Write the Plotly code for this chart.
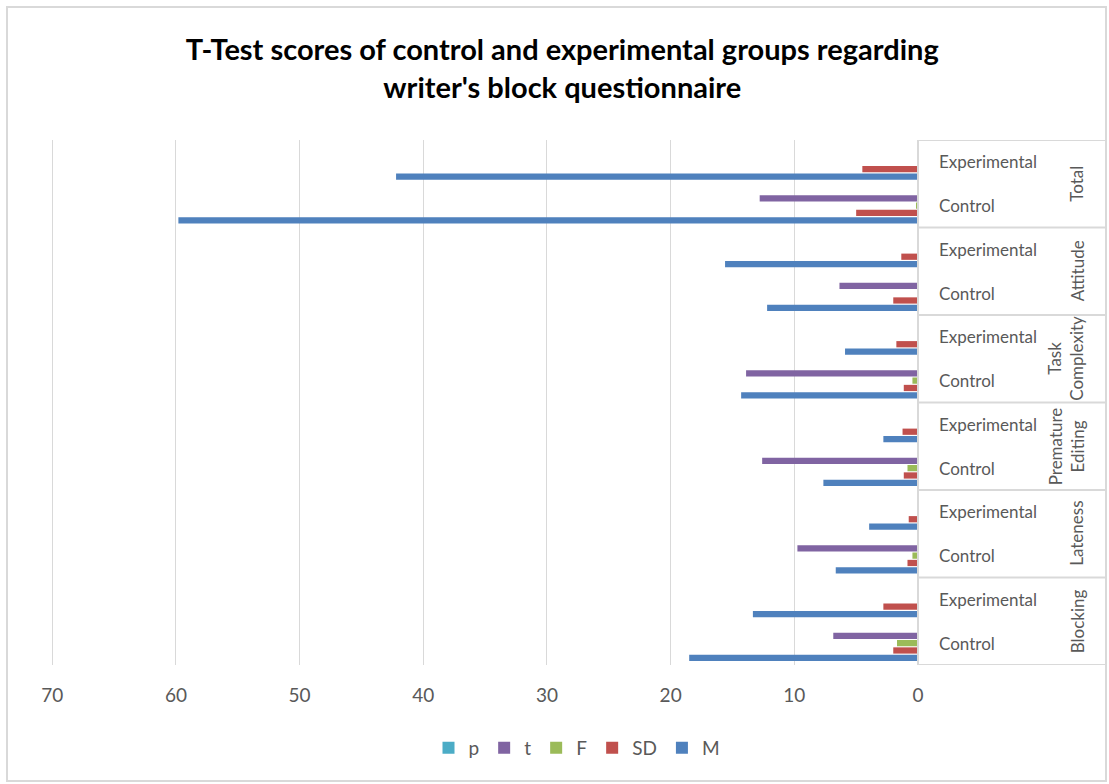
import plotly.graph_objects as go

groups = ["Blocking", "Lateness", "Premature<br>Editing", "Task<br>Complexity", "Attitude", "Total"]
subgroups = ["Control", "Experimental"]

# values ordered bottom-to-top: (Blocking Control, Blocking Experimental, Lateness Control, ...)
M_vals = [18.5, 13.35, 6.65, 3.95, 7.65, 2.8, 14.3, 5.9, 12.2, 15.6, 59.8, 42.2]
SD_vals = [2.0, 2.8, 0.85, 0.75, 1.15, 1.25, 1.15, 1.75, 2.0, 1.35, 5.0, 4.5]
F_vals = [1.7, 0, 0.45, 0, 0.85, 0, 0.45, 0, 0, 0, 0.15, 0]
t_vals = [6.85, 0, 9.75, 0, 12.6, 0, 13.9, 0, 6.35, 0, 12.8, 0]
p_vals = [0, 0, 0, 0, 0, 0, 0, 0, 0, 0, 0, 0]

series = [
    ("M", M_vals, "#4F81BD"),
    ("SD", SD_vals, "#C0504D"),
    ("F", F_vals, "#9BBB59"),
    ("t", t_vals, "#8064A2"),
    ("p", p_vals, "#4BACC6"),
]

n_cat = len(groups) * len(subgroups)
ypos = list(range(n_cat))

fig = go.Figure()
for name, vals, color in series:
    fig.add_trace(go.Bar(
        y=ypos, x=vals, name=name, orientation="h",
        marker=dict(color=color, line=dict(width=0)),
    ))

# plot area geometry (pixels) used to place label column
L, R, T, B = 51, 191, 140, 119
W, H = 1109, 784
pw = W - L - R
ph = H - T - B

def px_x(px):
    return (px - L) / pw

def px_y(py):
    return (H - B - py) / ph

annotations = []
shapes = []
grid_color = "#D9D9D9"
label_color = "#595959"
FONT = "Lato, Calibri, sans-serif"

# inner labels
for i in range(n_cat):
    annotations.append(dict(
        x=px_x(937), xref="paper", y=ypos[i], yref="y",
        text=subgroups[i % 2], showarrow=False, xanchor="left", yanchor="middle",
        font=dict(family=FONT, size=17, color=label_color),
    ))
# outer (group) labels rotated
for g, name in enumerate(groups):
    two_line = "<br>" in name
    annotations.append(dict(
        x=px_x(1066 if two_line else 1077), xref="paper", y=g * 2 + 0.5, yref="y",
        text=name, showarrow=False, textangle=-90, xanchor="center", yanchor="middle",
        font=dict(family=FONT, size=17, color=label_color),
    ))
# group separators
for g in range(len(groups) + 1):
    shapes.append(dict(
        type="line", xref="paper", yref="y",
        x0=1, x1=px_x(1106), y0=g * 2 - 0.5, y1=g * 2 - 0.5,
        line=dict(color=grid_color, width=2),
    ))
# vertical axis line
shapes.append(dict(type="line", xref="paper", yref="y", x0=1, x1=1,
                   y0=-0.5, y1=n_cat - 0.5, line=dict(color=grid_color, width=2)))
# chart border
shapes.append(dict(type="rect", xref="paper", yref="paper",
                   x0=px_x(7), x1=px_x(1106), y0=px_y(781), y1=px_y(7),
                   line=dict(color="#D9D9D9", width=2)))

fig.update_layout(
    width=W, height=H,
    margin=dict(l=L, r=R, t=T, b=B),
    paper_bgcolor="white", plot_bgcolor="white",
    barmode="group", bargap=0.16, bargroupgap=0.15,
    title=dict(
        text="<b>T-Test scores of control and experimental groups regarding<br>writer's block questionnaire</b>",
        x=0.507, xanchor="center", y=1 - 60 / H, yanchor="middle",
        font=dict(family=FONT, size=29, color="#000000"),
    ),
    xaxis=dict(
        range=[70.1, 0], dtick=10, tick0=0, showgrid=True, gridcolor=grid_color, gridwidth=1,
        zeroline=False, showline=False, ticks="outside", ticklen=13, tickcolor="rgba(0,0,0,0)",
        tickfont=dict(family=FONT, size=19, color=label_color),
    ),
    yaxis=dict(range=[-0.5, n_cat - 0.5], showticklabels=False, showgrid=False,
               zeroline=False, showline=False),
    legend=dict(
        orientation="h", traceorder="reversed", x=px_x(577), xanchor="center",
        y=px_y(748), yanchor="middle",
        font=dict(family=FONT, size=19, color=label_color),
        itemwidth=30,
    ),
    annotations=annotations, shapes=shapes,
)

fig.write_html("out.html", config={"displayModeBar": False},
               post_script="document.body.style.margin='0px';")
